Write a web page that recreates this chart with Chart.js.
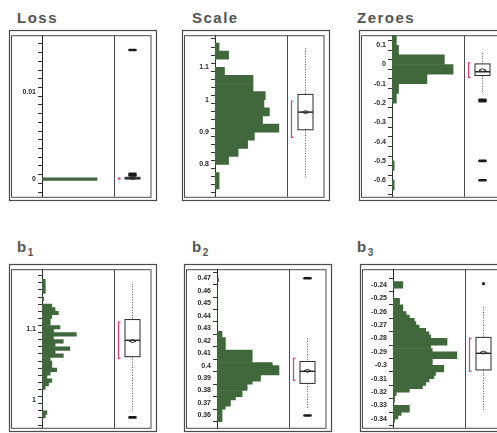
<!DOCTYPE html>
<html>
<head>
<meta charset="utf-8">
<script src="https://cdn.jsdelivr.net/npm/chart.js@4.4.1/dist/chart.umd.min.js"></script>
<style>
  html, body { margin: 0; padding: 0; background: #fff; width: 497px; height: 433px; overflow: hidden; position: relative; }
  canvas { position: absolute; }
  .title { position: absolute; font-family: 'Liberation Sans', Arial, sans-serif; font-weight: bold; font-size: 15px;
           line-height: 15px; letter-spacing: 1.5px; color: #555; white-space: nowrap; }
  .title sub { font-size: 10px; line-height: 0; vertical-align: baseline; position: relative; top: 4px; letter-spacing: 0; }
</style>
</head>
<body>
<script>
// ---------- Loss ----------
const lossBinStart = -0.00015;
const lossBinWidth = 0.0003;
const lossCounts = [140, 0];
const lossRange = [-0.00149, 0.01596];
const lossTicks = [0, 0.01];
const lossTickLabels = ['0', '0.01'];
const lossMinorStep = 0.001;
const lossBox = [0, 0, 0.0001, 0.0002, 0.0002, 0.0001];      // whisker lo, q1, median, q3, whisker hi, mean
const lossOutliers = [0.0004, 0.0006, 0.0148];
const lossShortestHalf = [0, 0.0001];

// ---------- Scale ----------
const scaleBinStart = 0.7;
const scaleBinWidth = 0.025;
const scaleCounts = [0, 3, 3, 0, 10, 17, 24, 29, 47, 35, 40, 36, 37, 28, 28, 7, 0, 10, 3, 0];
const scaleRange = [0.7135, 1.186];
const scaleTicks = [0.8, 0.9, 1, 1.1];
const scaleTickLabels = ['0.8', '0.9', '1', '1.1'];
const scaleMinorStep = 0.025;
const scaleBox = [0.7576, 0.9072, 0.9617, 1.0164, 1.1585, 0.9617];
const scaleOutliers = [];
const scaleShortestHalf = [0.884, 0.996];

// ---------- Zeroes ----------
const zeroesBinStart = -0.7;
const zeroesBinWidth = 0.05;
const zeroesCounts = [0, 1, 0, 1, 0, 0, 0, 0, 0, 0, 2, 3, 16, 28, 24, 3, 2];
const zeroesRange = [-0.66, 0.1257];
const zeroesTicks = [0.1, 0, -0.1, -0.2, -0.3, -0.4, -0.5, -0.6];
const zeroesTickLabels = ['0.1', '0', '-0.1', '-0.2', '-0.3', '-0.4', '-0.5', '-0.6'];
const zeroesMinorStep = 0.05;
const zeroesBox = [-0.1424, -0.057, -0.0377, 0.003, 0.0593, -0.03];
const zeroesOutliers = [-0.183, -0.19, -0.5, -0.6];
const zeroesShortestHalf = [-0.0667, 0.0079];

// ---------- b1 ----------
const b1BinStart = 0.965;
const b1BinWidth = 0.005;
const b1Counts = [0, 0, 2, 3, 0, 0, 0, 0, 0, 0,
                  2, 4, 6, 3, 5, 9, 6, 6, 5, 13,
                  8, 17, 8, 13, 7, 21, 7, 11, 5, 5,
                  6, 10, 8, 6, 0, 1, 0, 2, 2, 2,
                  2, 0, 0];
const b1Range = [0.9664, 1.1788];
const b1Ticks = [1, 1.1];
const b1TickLabels = ['1', '1.1'];
const b1MinorStep = 0.01;
const b1Box = [0.9836, 1.0611, 1.0841, 1.1133, 1.1637, 1.083];
const b1Outliers = [0.9757];
const b1ShortestHalf = [1.0588, 1.1097];

// ---------- b2 ----------
const b2BinStart = 0.355;
const b2BinWidth = 0.0025;
const b2Counts = [3, 3, 3, 3, 5, 8, 8, 11, 15, 15,
                  18, 18, 21, 26, 26, 37, 37, 37, 33, 21,
                  21, 21, 21, 5, 5, 5, 5, 3, 3, 0,
                  0, 0, 0, 0, 0, 0, 0, 0, 0, 0,
                  0, 0, 0, 0, 0, 1];
const b2Range = [0.3554, 0.472];
const b2Ticks = [0.36, 0.37, 0.38, 0.39, 0.4, 0.41, 0.42, 0.43, 0.44, 0.45, 0.46, 0.47];
const b2TickLabels = ['0.36', '0.37', '0.38', '0.39', '0.4', '0.41', '0.42', '0.43', '0.44', '0.45', '0.46', '0.47'];
const b2MinorStep = 0.01;
const b2Box = [0.3649, 0.3857, 0.3954, 0.4033, 0.4218, 0.3958];
const b2Outliers = [0.36, 0.47];
const b2ShortestHalf = [0.3881, 0.4057];

// ---------- b3 ----------
const b3BinStart = -0.3425;
const b3BinWidth = 0.0025;
const b3Counts = [1, 3, 5, 10, 10, 0, 1, 1, 2, 10,
                  18, 20, 22, 25, 26, 31, 31, 24, 24, 39,
                  39, 24, 23, 33, 33, 23, 22, 20, 16, 14,
                  13, 10, 8, 6, 6, 4, 4, 0, 0, 0,
                  6, 6, 0];
const b3Range = [-0.3413, -0.2337];
const b3Ticks = [-0.34, -0.33, -0.32, -0.31, -0.3, -0.29, -0.28, -0.27, -0.26, -0.25, -0.24];
const b3TickLabels = ['-0.34', '-0.33', '-0.32', '-0.31', '-0.3', '-0.29', '-0.28', '-0.27', '-0.26', '-0.25', '-0.24'];
const b3MinorStep = 0.01;
const b3Box = [-0.3337, -0.3035, -0.2911, -0.2792, -0.2564, -0.2905];
const b3Outliers = [-0.2391];
const b3ShortestHalf = [-0.3046, -0.2799];

// ---------- drawing ----------
const GREEN = '#41673d';
const FRAME = '#4a4a4a';
const HALF_COLOR = '#d8406e';

function histPoints(start, width, counts) {
  return counts.map((c, i) => ({ x: c, y: start + (i + 0.5) * width }));
}

function tickSet(range, step) {
  const out = [];
  const k0 = Math.ceil(range[0] / step - 1e-9), k1 = Math.floor(range[1] / step + 1e-9);
  for (let k = k0; k <= k1; k++) out.push(Math.round(k * step * 1e6) / 1e6);
  return out;
}

// frame, divider and the box plot beside the histogram
function makeDecor(p) {
  return {
    id: 'panelDecor',
    beforeDraw(chart) {
      const { ctx, chartArea: a, width, height } = chart;
      ctx.save();
      ctx.fillStyle = '#fff';
      ctx.fillRect(0, 0, width, height);
      ctx.strokeStyle = FRAME;
      ctx.lineWidth = 1.2;
      ctx.strokeRect(1.5, 1.5, width - 3, height - 4);
      ctx.lineWidth = 1;
      ctx.strokeRect(3.5, a.top + 0.5, a.right + 37 - 3.5, a.bottom - a.top);
      ctx.beginPath();
      ctx.moveTo(a.right + 0.5, a.top);
      ctx.lineTo(a.right + 0.5, a.bottom);
      ctx.stroke();
      ctx.restore();
    },
    afterDatasetsDraw(chart) {
      const { ctx, chartArea: a } = chart;
      const ys = chart.scales.y;
      const py = v => ys.getPixelForValue(v);
      const cx = a.right + 18.5, hw = 7.5;
      const [lo, q1, med, q3, hi, mean] = p.box;
      ctx.save();
      // whiskers
      ctx.strokeStyle = '#555';
      ctx.lineWidth = 1;
      ctx.setLineDash([1, 1.6]);
      ctx.beginPath();
      ctx.moveTo(cx, py(hi)); ctx.lineTo(cx, py(q3));
      ctx.moveTo(cx, py(q1)); ctx.lineTo(cx, py(lo));
      ctx.stroke();
      ctx.setLineDash([]);
      // box
      const top = py(q3), bot = py(q1);
      ctx.fillStyle = '#fff';
      ctx.fillRect(cx - hw, top, 2 * hw, bot - top);
      ctx.strokeStyle = '#2a2a2a';
      ctx.lineWidth = 1;
      ctx.strokeRect(cx - hw, top, 2 * hw, Math.max(bot - top, 1));
      // median
      ctx.lineWidth = 1.5;
      ctx.beginPath();
      ctx.moveTo(cx - hw, py(med)); ctx.lineTo(cx + hw, py(med));
      ctx.stroke();
      // mean diamond
      const my = py(mean);
      ctx.lineWidth = 1;
      ctx.beginPath();
      ctx.moveTo(cx - 3.5, my); ctx.lineTo(cx, my - 1.5); ctx.lineTo(cx + 3.5, my); ctx.lineTo(cx, my + 1.5); ctx.closePath();
      ctx.stroke();
      // outliers
      ctx.strokeStyle = '#1a1a1a';
      ctx.fillStyle = '#1a1a1a';
      p.outliers.forEach(v => {
        const y = py(v);
        if (p.mark === 'dot') {
          ctx.beginPath(); ctx.arc(cx, y, 1.6, 0, Math.PI * 2); ctx.fill();
        } else {
          ctx.lineWidth = 2.6; ctx.lineCap = 'round';
          ctx.beginPath(); ctx.moveTo(cx - 3, y); ctx.lineTo(cx + 3, y); ctx.stroke();
        }
      });
      // shortest half bracket
      const hx = a.right + 4.5, h0 = py(p.half[0]), h1 = py(p.half[1]);
      ctx.strokeStyle = HALF_COLOR;
      ctx.lineWidth = 1.2;
      ctx.lineCap = 'butt';
      ctx.beginPath();
      ctx.moveTo(hx + 2, h1); ctx.lineTo(hx, h1); ctx.lineTo(hx, h0); ctx.lineTo(hx + 2, h0);
      ctx.stroke();
      ctx.restore();
    }
  };
}

function makePanel(p) {
  const t = document.createElement('div');
  t.className = 'title';
  t.style.left = p.titleX + 'px';
  t.style.top = p.titleY + 'px';
  t.innerHTML = p.title;
  document.body.appendChild(t);

  const canvas = document.createElement('canvas');
  canvas.width = 150;
  canvas.height = p.h;
  canvas.style.left = p.left + 'px';
  canvas.style.top = p.top + 'px';
  canvas.style.width = '150px';
  canvas.style.height = p.h + 'px';
  document.body.appendChild(canvas);

  const allTicks = tickSet(p.range, p.minor);
  const labelFor = v => {
    const i = p.ticks.findIndex(m => Math.abs(m - v) < 1e-9);
    return i >= 0 ? p.labels[i] : '';
  };

  new Chart(canvas, {
    type: 'bar',
    data: {
      datasets: [{
        data: histPoints(p.binStart, p.binWidth, p.counts),
        backgroundColor: GREEN,
        borderWidth: 0,
        barPercentage: 1,
        categoryPercentage: 1
      }]
    },
    options: {
      indexAxis: 'y',
      responsive: false,
      devicePixelRatio: 1,
      animation: false,
      events: [],
      layout: { padding: { left: 0, top: 4, right: 44, bottom: 6 } },
      plugins: { legend: { display: false }, tooltip: { enabled: false }, title: { display: false } },
      scales: {
        x: { type: 'linear', display: false, min: 0, max: p.xMax },
        y: {
          type: 'linear', position: 'left', bounds: 'data',
          min: p.range[0], max: p.range[1],
          afterFit: s => { s.width = 34; },
          afterBuildTicks: s => { s.ticks = allTicks.map(v => ({ value: v })); },
          ticks: {
            autoSkip: false, padding: 2, color: '#2a2a2a',
            font: { family: "'Liberation Sans', Arial, sans-serif", size: 7, weight: 'bold' },
            callback: v => labelFor(v)
          },
          grid: { drawOnChartArea: false, drawTicks: true, tickLength: 4, color: '#333', lineWidth: 1 },
          border: { display: true, color: '#222', width: 1 }
        }
      }
    },
    plugins: [makeDecor(p)]
  });
}

const TOP_ROW = { top: 29, h: 174, titleY: 10 };
const BOTTOM_ROW = { top: 263, h: 171, titleY: 239 };

makePanel({ title: 'Loss', titleX: 17, ...TOP_ROW, left: 8,
  binStart: lossBinStart, binWidth: lossBinWidth, counts: lossCounts, xMax: 183, range: lossRange,
  ticks: lossTicks, labels: lossTickLabels, minor: lossMinorStep,
  box: lossBox, outliers: lossOutliers, half: lossShortestHalf, mark: 'dash' });
makePanel({ title: 'Scale', titleX: 192, ...TOP_ROW, left: 181,
  binStart: scaleBinStart, binWidth: scaleBinWidth, counts: scaleCounts, xMax: 53, range: scaleRange,
  ticks: scaleTicks, labels: scaleTickLabels, minor: scaleMinorStep,
  box: scaleBox, outliers: scaleOutliers, half: scaleShortestHalf, mark: 'dash' });
makePanel({ title: 'Zeroes', titleX: 357, ...TOP_ROW, left: 358,
  binStart: zeroesBinStart, binWidth: zeroesBinWidth, counts: zeroesCounts, xMax: 33, range: zeroesRange,
  ticks: zeroesTicks, labels: zeroesTickLabels, minor: zeroesMinorStep,
  box: zeroesBox, outliers: zeroesOutliers, half: zeroesShortestHalf, mark: 'dash' });
makePanel({ title: 'b<sub>1</sub>', titleX: 17, ...BOTTOM_ROW, left: 8,
  binStart: b1BinStart, binWidth: b1BinWidth, counts: b1Counts, xMax: 44, range: b1Range,
  ticks: b1Ticks, labels: b1TickLabels, minor: b1MinorStep,
  box: b1Box, outliers: b1Outliers, half: b1ShortestHalf, mark: 'dash' });
makePanel({ title: 'b<sub>2</sub>', titleX: 192, ...BOTTOM_ROW, left: 183,
  binStart: b2BinStart, binWidth: b2BinWidth, counts: b2Counts, xMax: 43, range: b2Range,
  ticks: b2Ticks, labels: b2TickLabels, minor: b2MinorStep,
  box: b2Box, outliers: b2Outliers, half: b2ShortestHalf, mark: 'dash' });
makePanel({ title: 'b<sub>3</sub>', titleX: 357, ...BOTTOM_ROW, left: 359,
  binStart: b3BinStart, binWidth: b3BinWidth, counts: b3Counts, xMax: 44, range: b3Range,
  ticks: b3Ticks, labels: b3TickLabels, minor: b3MinorStep,
  box: b3Box, outliers: b3Outliers, half: b3ShortestHalf, mark: 'dot' });
</script>
</body>
</html>
